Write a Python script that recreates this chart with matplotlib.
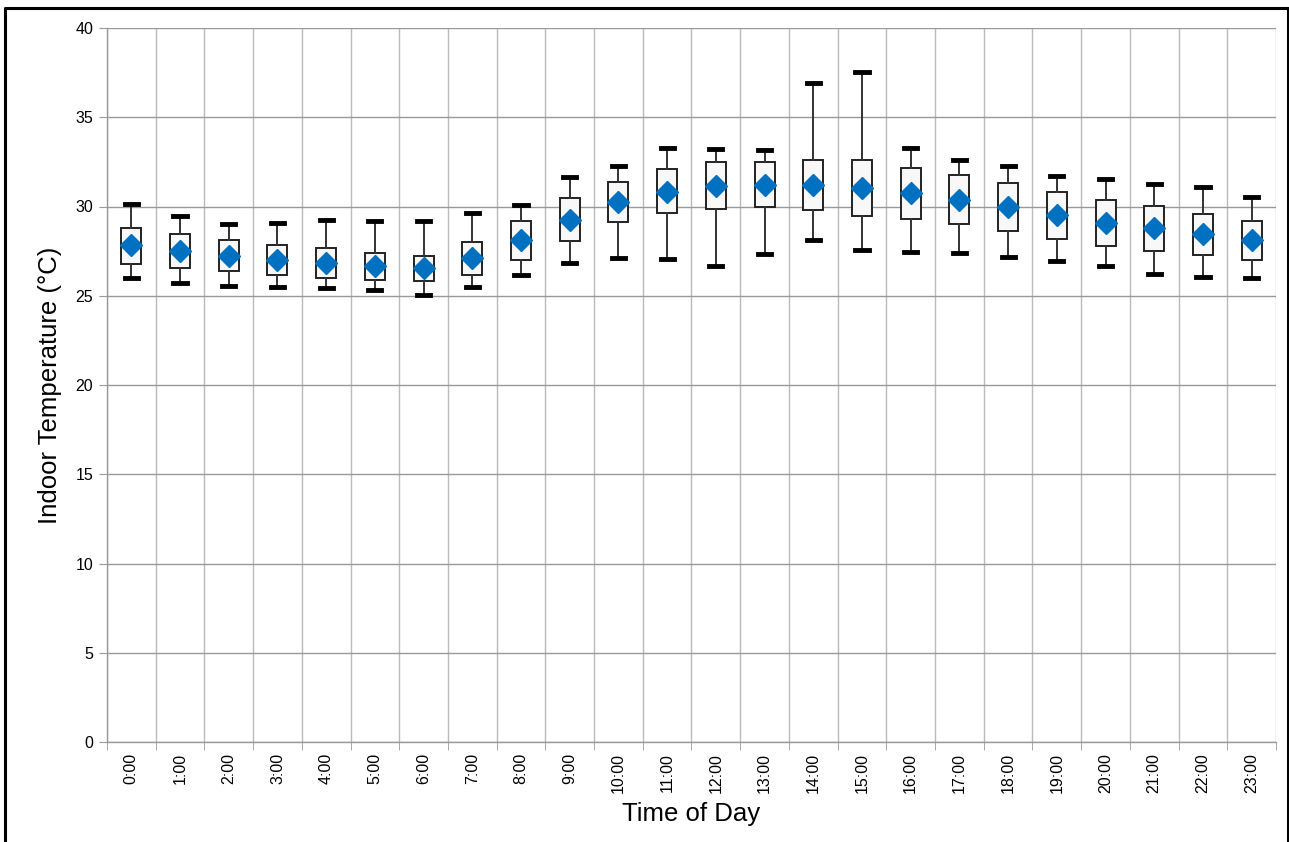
import matplotlib
matplotlib.use("Agg")
import matplotlib.pyplot as plt
from matplotlib.lines import Line2D
import numpy as np

plt.rcParams['font.family'] = ['Liberation Sans', 'DejaVu Sans']

hours = [f"{h}:00" for h in range(24)]
whisker_low = [25.97, 25.70, 25.56, 25.50, 25.41, 25.30, 25.05, 25.50, 26.15, 26.86, 27.09, 27.05,
               26.64, 27.35, 28.14, 27.58, 27.47, 27.42, 27.17, 26.93, 26.67, 26.24, 26.07, 26.01]
q1 = [26.79, 26.58, 26.36, 26.17, 26.00, 25.89, 25.85, 26.19, 27.03, 28.08, 29.12, 29.61,
      29.85, 29.98, 29.79, 29.48, 29.29, 29.04, 28.61, 28.18, 27.81, 27.51, 27.27, 27.00]
mean = [27.82, 27.53, 27.25, 27.01, 26.83, 26.64, 26.55, 27.12, 28.13, 29.27, 30.24, 30.84,
        31.14, 31.21, 31.19, 31.06, 30.75, 30.39, 30.00, 29.51, 29.10, 28.78, 28.45, 28.11]
q3 = [28.80, 28.47, 28.15, 27.87, 27.65, 27.39, 27.24, 28.02, 29.18, 30.47, 31.36, 32.08,
      32.48, 32.51, 32.58, 32.62, 32.13, 31.74, 31.31, 30.81, 30.39, 30.04, 29.59, 29.16]
whisker_high = [30.15, 29.46, 29.01, 29.10, 29.25, 29.16, 29.16, 29.63, 30.11, 31.68, 32.26, 33.30,
                33.24, 33.15, 36.91, 37.51, 33.30, 32.60, 32.25, 31.69, 31.52, 31.25, 31.07, 30.54]

stats = []
for i in range(len(hours)):
    stats.append(dict(whislo=whisker_low[i], q1=q1[i], med=mean[i], q3=q3[i],
                      whishi=whisker_high[i], mean=mean[i], fliers=[], label=hours[i]))

W, H = 1289, 842
fig = plt.figure(figsize=(W / 100, H / 100), dpi=100)
ax = fig.add_axes([107 / W, 1 - 742 / H, (1276 - 107) / W, (742 - 28) / H])

pos = np.arange(len(hours))
ax.bxp(stats, positions=pos, widths=0.41, showmeans=True, showfliers=False, patch_artist=True,
       boxprops=dict(facecolor='#f8f8f8', edgecolor='#222222', linewidth=1.4),
       whiskerprops=dict(color='#333333', linewidth=1.4),
       capprops=dict(color='black', linewidth=3.5),
       capwidths=0.27,
       medianprops=dict(linewidth=0, alpha=0),
       meanprops=dict(marker='D', markerfacecolor='#0070C0', markeredgecolor='#0070C0',
                      markersize=11), zorder=3)

ax.set_xlim(-0.5, len(hours) - 0.5)
ax.set_ylim(0, 40)
ax.set_yticks(np.arange(0, 41, 5))
ax.set_xticks(pos)
ax.set_xticklabels(hours, rotation=90, fontsize=11.5)
ax.set_xticks(np.arange(-0.5, len(hours), 1), minor=True)
ax.tick_params(axis='x', which='major', length=0, pad=8)
ax.tick_params(axis='x', which='minor', length=6, color='#999999', direction='out')
ax.tick_params(axis='y', length=6, color='#999999', labelsize=11.5, pad=4)

ax.grid(axis='y', which='major', color='#999999', linewidth=1.0, zorder=0)
ax.grid(axis='x', which='minor', color='#bbbbbb', linewidth=1.0, zorder=0)
ax.set_axisbelow(True)
for s in ['top', 'right']:
    ax.spines[s].set_visible(False)
for s in ['left', 'bottom']:
    ax.spines[s].set_color('#999999')
    ax.spines[s].set_linewidth(1.0)

ax.set_xlabel('Time of Day', fontsize=18.5, labelpad=6)
ax.set_ylabel('Indoor Temperature (°C)', fontsize=18.5, labelpad=9.5)

# figure frame: left, top, right (no bottom edge visible)
xl, xr, yt = 4.5 / W, 1287.5 / W, 1 - 7.5 / H
fig.add_artist(Line2D([xl, xl, xr, xr], [0, yt, yt, 0], transform=fig.transFigure,
                      color='black', linewidth=2.2))

fig.savefig('out.png', dpi=100)
